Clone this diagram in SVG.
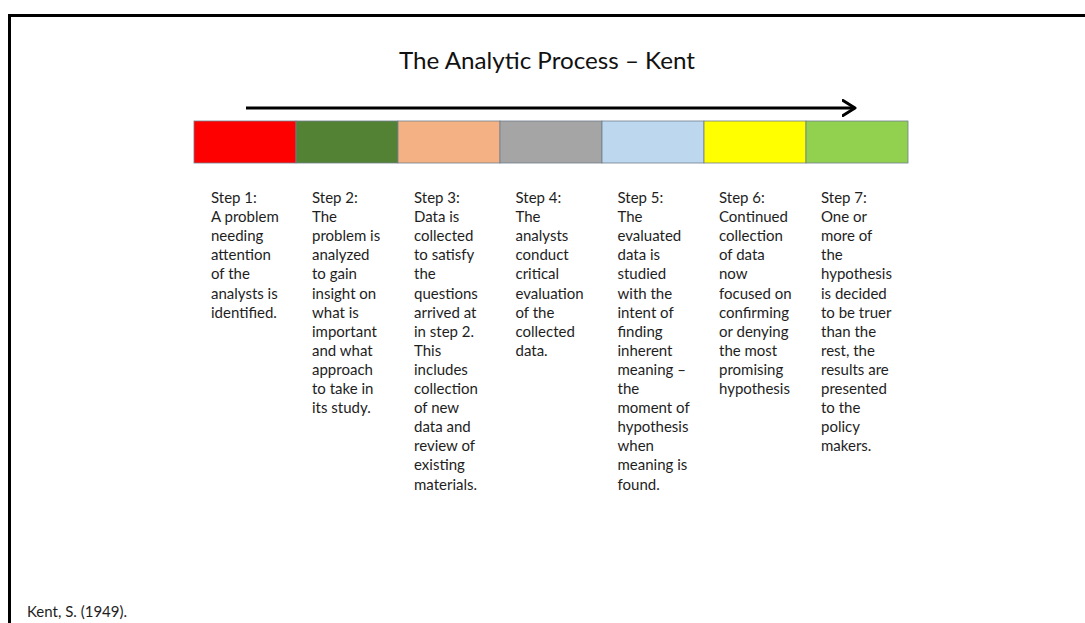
<svg xmlns="http://www.w3.org/2000/svg" width="1085" height="623" viewBox="0 0 1085 623">
<style>
.cell{stroke:#6f7d8c;stroke-width:0.8}
.t{font-family:Lato,"Open Sans","Liberation Sans",sans-serif;font-size:15px;fill:#1e1e1e}
.title{font-family:Lato,"Open Sans","Liberation Sans",sans-serif;font-size:23px;fill:#111}
</style>
<defs>
<marker id="chev" viewBox="0 0 10 12" refX="9" refY="6" markerWidth="5" markerHeight="6" markerUnits="strokeWidth" orient="auto">
<path d="M1,1 L9,6 L1,11" fill="none" stroke="#000" stroke-width="2" stroke-linecap="round" stroke-linejoin="round"/>
</marker>
</defs>
<rect width="1085" height="623" fill="#fff"/>
<path d="M9.5,640 V15.5 H1100" fill="none" stroke="#000" stroke-width="3"/>
<text class="title" x="547" y="69" text-anchor="middle" textLength="296" lengthAdjust="spacingAndGlyphs">The Analytic Process – Kent</text>
<g id="connectors">
<line x1="246" y1="108" x2="855" y2="108" stroke="#000" stroke-width="3" marker-end="url(#chev)"/>
</g>
<g id="step1">
<rect class="cell" x="194" y="121" width="102" height="42" fill="#FF0000"/>
<text class="t" x="211" y="203"><tspan x="211">Step 1:</tspan><tspan x="211" dy="19.1">A problem</tspan><tspan x="211" dy="19.1">needing</tspan><tspan x="211" dy="19.1">attention</tspan><tspan x="211" dy="19.1">of the</tspan><tspan x="211" dy="19.1">analysts is</tspan><tspan x="211" dy="19.1">identified.</tspan></text>
</g>
<g id="step2">
<rect class="cell" x="296" y="121" width="102" height="42" fill="#548235"/>
<text class="t" x="312" y="203"><tspan x="312">Step 2:</tspan><tspan x="312" dy="19.1">The</tspan><tspan x="312" dy="19.1">problem is</tspan><tspan x="312" dy="19.1">analyzed</tspan><tspan x="312" dy="19.1">to gain</tspan><tspan x="312" dy="19.1">insight on</tspan><tspan x="312" dy="19.1">what is</tspan><tspan x="312" dy="19.1">important</tspan><tspan x="312" dy="19.1">and what</tspan><tspan x="312" dy="19.1">approach</tspan><tspan x="312" dy="19.1">to take in</tspan><tspan x="312" dy="19.1">its study.</tspan></text>
</g>
<g id="step3">
<rect class="cell" x="398" y="121" width="102" height="42" fill="#F4B183"/>
<text class="t" x="414" y="203"><tspan x="414">Step 3:</tspan><tspan x="414" dy="19.1">Data is</tspan><tspan x="414" dy="19.1">collected</tspan><tspan x="414" dy="19.1">to satisfy</tspan><tspan x="414" dy="19.1">the</tspan><tspan x="414" dy="19.1">questions</tspan><tspan x="414" dy="19.1">arrived at</tspan><tspan x="414" dy="19.1">in step 2.</tspan><tspan x="414" dy="19.1">This</tspan><tspan x="414" dy="19.1">includes</tspan><tspan x="414" dy="19.1">collection</tspan><tspan x="414" dy="19.1">of new</tspan><tspan x="414" dy="19.1">data and</tspan><tspan x="414" dy="19.1">review of</tspan><tspan x="414" dy="19.1">existing</tspan><tspan x="414" dy="19.1">materials.</tspan></text>
</g>
<g id="step4">
<rect class="cell" x="500" y="121" width="102" height="42" fill="#A5A5A5"/>
<text class="t" x="515.5" y="203"><tspan x="515.5">Step 4:</tspan><tspan x="515.5" dy="19.1">The</tspan><tspan x="515.5" dy="19.1">analysts</tspan><tspan x="515.5" dy="19.1">conduct</tspan><tspan x="515.5" dy="19.1">critical</tspan><tspan x="515.5" dy="19.1">evaluation</tspan><tspan x="515.5" dy="19.1">of the</tspan><tspan x="515.5" dy="19.1">collected</tspan><tspan x="515.5" dy="19.1">data.</tspan></text>
</g>
<g id="step5">
<rect class="cell" x="602" y="121" width="102" height="42" fill="#BDD7EE"/>
<text class="t" x="617.5" y="203"><tspan x="617.5">Step 5:</tspan><tspan x="617.5" dy="19.1">The</tspan><tspan x="617.5" dy="19.1">evaluated</tspan><tspan x="617.5" dy="19.1">data is</tspan><tspan x="617.5" dy="19.1">studied</tspan><tspan x="617.5" dy="19.1">with the</tspan><tspan x="617.5" dy="19.1">intent of</tspan><tspan x="617.5" dy="19.1">finding</tspan><tspan x="617.5" dy="19.1">inherent</tspan><tspan x="617.5" dy="19.1">meaning –</tspan><tspan x="617.5" dy="19.1">the</tspan><tspan x="617.5" dy="19.1">moment of</tspan><tspan x="617.5" dy="19.1">hypothesis</tspan><tspan x="617.5" dy="19.1">when</tspan><tspan x="617.5" dy="19.1">meaning is</tspan><tspan x="617.5" dy="19.1">found.</tspan></text>
</g>
<g id="step6">
<rect class="cell" x="704" y="121" width="102" height="42" fill="#FFFF00"/>
<text class="t" x="719" y="203"><tspan x="719">Step 6:</tspan><tspan x="719" dy="19.1">Continued</tspan><tspan x="719" dy="19.1">collection</tspan><tspan x="719" dy="19.1">of data</tspan><tspan x="719" dy="19.1">now</tspan><tspan x="719" dy="19.1">focused on</tspan><tspan x="719" dy="19.1">confirming</tspan><tspan x="719" dy="19.1">or denying</tspan><tspan x="719" dy="19.1">the most</tspan><tspan x="719" dy="19.1">promising</tspan><tspan x="719" dy="19.1">hypothesis</tspan></text>
</g>
<g id="step7">
<rect class="cell" x="806" y="121" width="102" height="42" fill="#92D050"/>
<text class="t" x="821" y="203"><tspan x="821">Step 7:</tspan><tspan x="821" dy="19.1">One or</tspan><tspan x="821" dy="19.1">more of</tspan><tspan x="821" dy="19.1">the</tspan><tspan x="821" dy="19.1">hypothesis</tspan><tspan x="821" dy="19.1">is decided</tspan><tspan x="821" dy="19.1">to be truer</tspan><tspan x="821" dy="19.1">than the</tspan><tspan x="821" dy="19.1">rest, the</tspan><tspan x="821" dy="19.1">results are</tspan><tspan x="821" dy="19.1">presented</tspan><tspan x="821" dy="19.1">to the</tspan><tspan x="821" dy="19.1">policy</tspan><tspan x="821" dy="19.1">makers.</tspan></text>
</g>
<text class="t" x="27" y="617">Kent, S. (1949).</text>
</svg>
